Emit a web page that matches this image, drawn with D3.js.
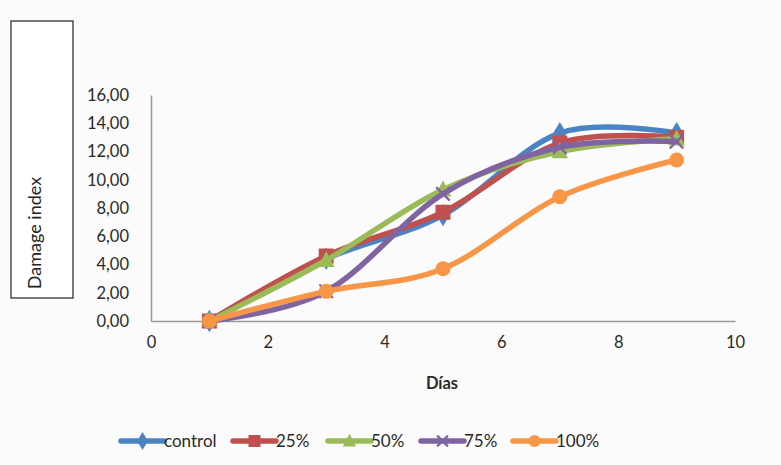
<!DOCTYPE html>
<html>
<head>
<meta charset="utf-8">
<script src="https://cdn.jsdelivr.net/npm/d3@7"></script>
<style>
  html, body { margin: 0; padding: 0; background: #fbfbfb; }
  svg { display: block; }
  text { font-family: Lato, "Open Sans", sans-serif; }
</style>
</head>
<body>
<svg id="chart" width="781" height="465"></svg>
<script>
// Days sampled
const dias = [1, 3, 5, 7, 9];

// Damage index per treatment
const control = [0, 4.4, 7.5, 13.3, 13.3];
const p25 = [0, 4.6, 7.7, 12.6, 13.0];
const p50 = [0, 4.3, 9.3, 12.0, 12.9];
const p75 = [0, 2.1, 9.0, 12.3, 12.7];
const p100 = [0, 2.1, 3.7, 8.8, 11.4];

const seriesNames = ["control", "25%", "50%", "75%", "100%"];
const seriesValues = [control, p25, p50, p75, p100];

const xTicks = [0, 2, 4, 6, 8, 10];
const yTicks = [0, 2, 4, 6, 8, 10, 12, 14, 16];

const colors = ["#4a84c4", "#c0504d", "#9bbb59", "#8064a2", "#f79646"];
const markers = ["diamond", "square", "triangle", "cross", "circle"];

const svg = d3.select("#chart");

const x = d3.scaleLinear().domain([0, 10]).range([151, 735]);
const y = d3.scaleLinear().domain([0, 16]).range([321, 95]);

const fmt = v => d3.format(".2f")(v).replace(".", ",");

// Axes (lines and labels only, no tick marks)
const yAxis = svg.append("g")
  .attr("transform", `translate(${x(0)},0)`)
  .call(d3.axisLeft(y).tickValues(yTicks).tickFormat(fmt).tickSize(0).tickPadding(22));
yAxis.select(".domain").attr("stroke", "#999").attr("stroke-width", 1.5);
yAxis.selectAll("text").attr("font-size", 16.5).attr("fill", "#2a2a2a").attr("font-family", "Lato, sans-serif");

const xAxis = svg.append("g")
  .attr("transform", `translate(0,${y(0)})`)
  .call(d3.axisBottom(x).tickValues(xTicks).tickFormat(d3.format("d")).tickSize(0).tickPadding(15));
xAxis.select(".domain").attr("stroke", "#999").attr("stroke-width", 1.5);
xAxis.selectAll("text").attr("font-size", 16.5).attr("fill", "#2a2a2a").attr("font-family", "Lato, sans-serif");

// Axis titles
svg.append("text")
  .attr("x", 442).attr("y", 389)
  .attr("text-anchor", "middle")
  .attr("font-size", 16.5).attr("font-weight", "bold").attr("fill", "#2a2a2a")
  .text("Días");

svg.append("rect")
  .attr("x", 11).attr("y", 21).attr("width", 62).attr("height", 277)
  .attr("fill", "#fff").attr("stroke", "#222").attr("stroke-width", 1.2);
svg.append("text")
  .attr("transform", "translate(41,233) rotate(-90)")
  .attr("text-anchor", "middle")
  .attr("font-size", 18).attr("fill", "#222")
  .text("Damage index");

const line = d3.line()
  .x((d, i) => x(dias[i]))
  .y(d => y(d))
  .curve(d3.curveCardinal.tension(0));

function marker(g, type, cx, cy, color, s) {
  if (type === "diamond") {
    g.append("path").attr("d", `M${cx},${cy - s * 0.75}L${cx + s * 0.45},${cy}L${cx},${cy + s * 0.75}L${cx - s * 0.45},${cy}Z`).attr("fill", color);
  } else if (type === "square") {
    g.append("rect").attr("x", cx - s / 2).attr("y", cy - s / 2).attr("width", s).attr("height", s).attr("fill", color);
  } else if (type === "triangle") {
    g.append("path").attr("d", `M${cx},${cy - s * 0.62}L${cx + s * 0.55},${cy + s * 0.45}L${cx - s * 0.55},${cy + s * 0.45}Z`).attr("fill", color);
  } else if (type === "cross") {
    const r = s * 0.45;
    g.append("path").attr("d", `M${cx - r},${cy - r}L${cx + r},${cy + r}M${cx - r},${cy + r}L${cx + r},${cy - r}`)
      .attr("stroke", color).attr("stroke-width", 2.2).attr("fill", "none");
  } else if (type === "circle") {
    g.append("circle").attr("cx", cx).attr("cy", cy).attr("r", s / 2).attr("fill", color);
  }
}

// Series lines and markers
seriesValues.forEach((vals, k) => {
  const g = svg.append("g");
  g.append("path")
    .attr("d", line(vals))
    .attr("fill", "none")
    .attr("stroke", colors[k])
    .attr("stroke-width", 5.5)
    .attr("stroke-linejoin", "round")
    .attr("stroke-linecap", "round");
  vals.forEach((v, i) => marker(g, markers[k], x(dias[i]), y(v), colors[k], 15));
});

// Legend
const legendX = [121, 233, 328, 421, 513];
seriesNames.forEach((name, k) => {
  const g = svg.append("g");
  const lx = legendX[k], ly = 441;
  g.append("line").attr("x1", lx).attr("x2", lx + 43).attr("y1", ly).attr("y2", ly)
    .attr("stroke", colors[k]).attr("stroke-width", 5.5).attr("stroke-linecap", "round");
  marker(g, markers[k], lx + 21.5, ly, colors[k], 12);
  g.append("text").attr("x", lx + 43).attr("y", ly + 6)
    .attr("font-size", 17).attr("fill", "#2a2a2a").text(name);
});
</script>
</body>
</html>
